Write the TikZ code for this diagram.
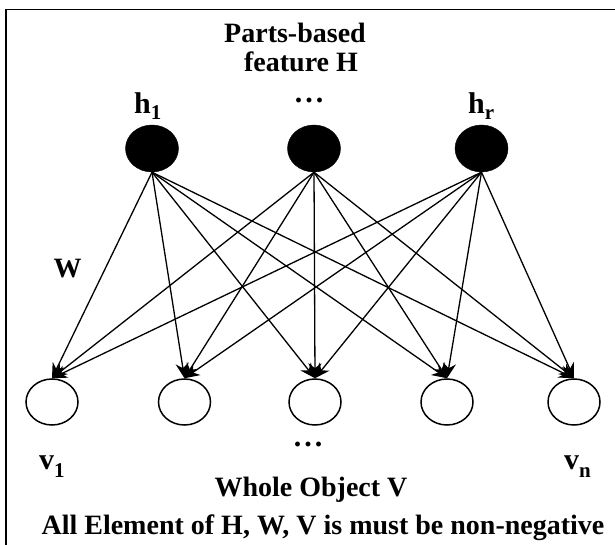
\documentclass[tikz,border=0pt]{standalone}
\usepackage{fontspec}
\setmainfont{Liberation Serif}
\usetikzlibrary{shapes.geometric,arrows.meta}
\begin{document}
\begin{tikzpicture}[x=1pt,y=-1pt,
  hid/.style={ellipse,fill=black,draw=black,minimum width=53pt,minimum height=47pt,inner sep=0pt},
  vis/.style={ellipse,fill=white,draw=black,line width=1.5pt,minimum width=52pt,minimum height=46pt,inner sep=0pt},
  conn/.style={line width=1.3pt,-{Stealth[length=15pt,width=13pt]}},
  lbl/.style={font=\fontsize{28}{32}\selectfont\bfseries,inner sep=0pt},
  big/.style={font=\fontsize{30}{34}\selectfont\bfseries,inner sep=0pt},
  dots/.style={font=\fontsize{30}{34}\selectfont\bfseries,inner sep=0pt}]
\useasboundingbox (0,0) rectangle (615,545);
\draw[line width=1.5pt] (6,545) -- (6,9.5) -- (615,9.5);
% hidden nodes
\node[hid] (h1) at (152,148.5) {};
\node[hid] (h2) at (314,148.5) {};
\node[hid] (h3) at (481.5,148.5) {};
% visible nodes
\node[vis] (v1) at (52,402) {};
\node[vis] (v2) at (184.5,402) {};
\node[vis] (v3) at (315,402) {};
\node[vis] (v4) at (447,402) {};
\node[vis] (v5) at (574,402) {};
% connectors
\foreach \h in {h1,h2,h3}{
  \foreach \v in {v1,v2,v3,v4,v5}{
    \draw[conn] (\h.south) -- (\v.north);
  }
}
% labels
\node[lbl,anchor=base] (t1) at (295,43) {Parts-based};
\node[lbl,anchor=base] (t2) at (301,72) {feature H};
\node[big,anchor=base west] (lh1) at (134,114) {h\raisebox{-6pt}{\fontsize{21}{21}\selectfont 1}};
\node[dots,anchor=base] (ld1) at (309,103) {.\hspace{3pt}.\hspace{3pt}.};
\node[big,anchor=base west] (lhr) at (468,114) {h\raisebox{-6pt}{\fontsize{21}{21}\selectfont r}};
\node[lbl] (lw) at (67.5,269) {W};
\node[big,anchor=base west] (lv1) at (39,469) {v\raisebox{-8pt}{\fontsize{21}{21}\selectfont 1}};
\node[dots,anchor=base] (ld2) at (308,446) {.\hspace{3pt}.\hspace{3pt}.};
\node[big,anchor=base west] (lvn) at (564,469) {v\raisebox{-8pt}{\fontsize{21}{21}\selectfont n}};
\node[lbl,anchor=base] (t3) at (311,496) {Whole Object V};
\node[lbl,anchor=base] (t4) at (323,534) {All Element of H, W, V is must be non-negative};
\end{tikzpicture}
\end{document}
